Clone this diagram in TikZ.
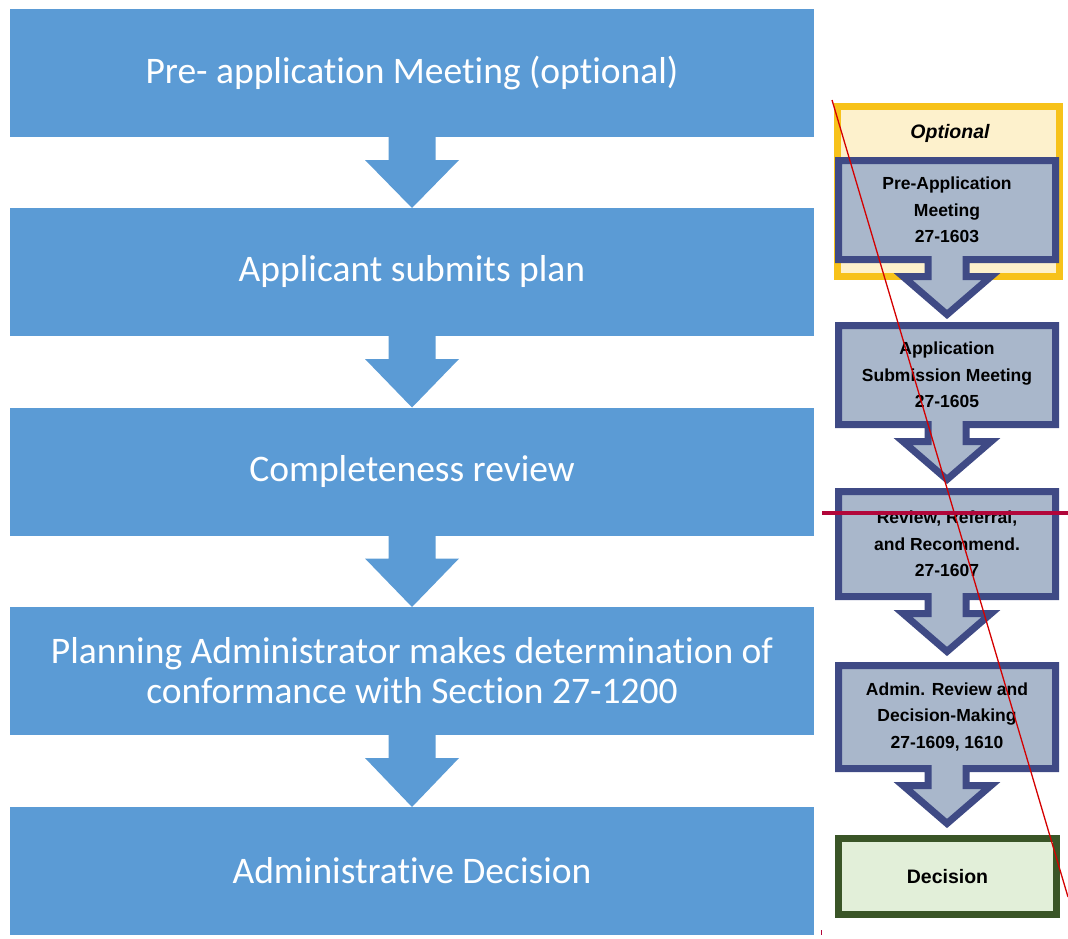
\documentclass[tikz,border=0pt]{standalone}
\usepackage{fontspec}
\setmainfont{Carlito}[Ligatures=NoCommon]
\newfontfamily\arialfont{Liberation Sans}
\usetikzlibrary{calc}
\pgfdeclarelayer{bg}
\pgfsetlayers{bg,main}
\definecolor{officeblue}{HTML}{5B9BD5}
\definecolor{navy}{HTML}{3F4A85}
\definecolor{navyfill}{HTML}{A9B7CB}
\definecolor{gold}{HTML}{F7C21A}
\definecolor{goldfill}{HTML}{FDF1CC}
\definecolor{dkgreen}{HTML}{3A5527}
\definecolor{greenfill}{HTML}{E2EFD9}
\definecolor{redline}{HTML}{D40000}
\definecolor{crimson}{HTML}{B2063A}
\newcommand\blueconnector[2]{%
  \fill[flowarrow] ($(#1.south)+(-23.5,0)$) -- ($(#1.south)+(23.5,0)$) -- ($(#1.south)+(23.5,23)$)
   -- ($(#1.south)+(47,23)$) -- (#2.north) -- ($(#1.south)+(-47,23)$) -- ($(#1.south)+(-23.5,23)$) -- cycle;}
\newcommand\navyarrowbox[1]{%
  \draw[navyline] (#1.north west) -- (#1.north east) -- (#1.south east) -- ($(#1.south)+(19,0)$)
   -- ($(#1.south)+(19,17)$) -- ($(#1.south)+(44,17)$) -- ($(#1.south)+(0,55)$)
   -- ($(#1.south)+(-44,17)$) -- ($(#1.south)+(-19,17)$) -- ($(#1.south)+(-19,0)$)
   -- (#1.south west) -- cycle;}
\begin{document}
\begin{tikzpicture}[x=1pt,y=-1pt,
  stepbox/.style={fill=officeblue, minimum width=804, minimum height=128, inner sep=0, outer sep=0,
    text=white, font=\fontsize{37.5}{40}\selectfont, align=center},
  flowarrow/.style={fill=officeblue},
  rbox/.style={minimum width=217, inner sep=0, outer sep=0, align=center,
    font=\arialfont\bfseries\fontsize{17.5}{26.5}\selectfont},
  navyline/.style={draw=navy, fill=navyfill, line width=7pt, line join=miter},
  redthin/.style={draw=redline, line width=1.3pt},
  redthick/.style={draw=crimson, line width=4pt},
]
\useasboundingbox (0,0) rectangle (1068,939);

% left flow
\node[stepbox] (b1) at (412,73) {Pre- application Meeting (optional)};
\node[stepbox] (b2) at (412,272) {Applicant submits plan};
\node[stepbox] (b3) at (412,471.5) {Completeness review};
\node[stepbox] (b4) at (412,671) {Planning Administrator makes determination of\\conformance with Section 27-1200};
\node[stepbox] (b5) at (412,871) {Administrative Decision};
\blueconnector{b1}{b2}
\blueconnector{b2}{b3}
\blueconnector{b3}{b4}
\blueconnector{b4}{b5}

% right flow
\node[rbox, minimum height=99] (ra) at (947,210) {Pre-Application\\Meeting\\27-1603};
\node[rbox, minimum height=99] (rb) at (947,375) {Application\\Submission Meeting\\27-1605};
\node[rbox, minimum height=105] (rc) at (947,544) {Review, Referral,\\and Recommend.\\27-1607};
\node[rbox, minimum height=103] (rd) at (947,717) {Admin. Review and\\Decision-Making\\27-1609, 1610};
\node[rbox, minimum width=218, minimum height=76, draw=dkgreen, fill=greenfill, line width=7pt,
  font=\arialfont\bfseries\fontsize{19.5}{24}\selectfont] (re) at (947.5,876.5) {Decision};
\node[rbox, font=\arialfont\bfseries\itshape\fontsize{19.5}{23}\selectfont] (optt) at (950,133) {Optional};
\begin{pgfonlayer}{bg}
  \node[minimum width=222, minimum height=170, inner sep=0, outer sep=0, draw=gold, fill=goldfill, line width=7pt] (opt) at (948.5,191.5) {};
  \navyarrowbox{ra}
  \navyarrowbox{rb}
  \navyarrowbox{rc}
  \navyarrowbox{rd}
\end{pgfonlayer}

% red marks
\coordinate (d1) at (832,100);
\coordinate (d2) at (1068,897);
\draw[redthin] (d1) -- (d2);
\coordinate (h1) at (822,513);
\coordinate (h2) at (1068,513);
\draw[redthick] (h1) -- (h2);
\coordinate (t1) at (821,930);
\coordinate (t2) at (821,935);
\draw[draw=crimson, line width=1pt] (t1) -- (t2);
\end{tikzpicture}
\end{document}
